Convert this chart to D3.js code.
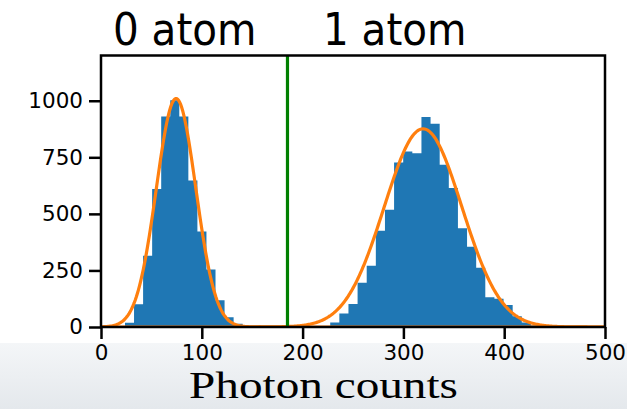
<!DOCTYPE html>
<html lang="en">
<head>
<meta charset="utf-8">
<script src="https://d3js.org/d3.v7.min.js"></script>
<style>
  body { margin: 0; background: #fff; }
  svg { display: block; }
</style>
</head>
<body>
<script>
// histogram of the "0 atom" shots
var zeroStart = 23.8, zeroWidth = 8.98;
var zeroCounts = [19, 101, 315, 610, 930, 1002, 930, 648, 422, 254, 118, 43, 14];

// histogram of the "1 atom" shots
var oneStart = 227.4, oneWidth = 9.05;
var oneCounts = [20, 60, 102, 196, 271, 425, 518, 727, 776, 768, 928, 898, 717, 614,
                 437, 355, 262, 132, 125, 97, 48, 20, 7];

// gaussian fits: [amplitude, centre, sigma]
var fitZero = [1010, 74.5, 19.6];
var fitOne = [876, 319.5, 38.5];

var threshold = 185;
var xTicks = [0, 100, 200, 300, 400, 500];
var yTicks = [0, 250, 500, 750, 1000];
var labels = ["0 atom", "1 atom"];

var w = 627, h = 409;
var svg = d3.select("body").append("svg").attr("width", w).attr("height", h);

// slide background at the bottom
var grad = svg.append("defs").append("linearGradient")
  .attr("id", "bg").attr("x1", 0).attr("y1", 0).attr("x2", 0).attr("y2", 1);
grad.append("stop").attr("offset", "0%").attr("stop-color", "#f4f6f8");
grad.append("stop").attr("offset", "100%").attr("stop-color", "#e4e8ec");
svg.append("rect").attr("x", 0).attr("y", 343).attr("width", w).attr("height", h - 343)
  .attr("fill", "url(#bg)");

var x = d3.scaleLinear().domain([0, 500]).range([101, 605]);
var y = d3.scaleLinear().domain([0, 1200]).range([327, 55.5]);

svg.append("clipPath").attr("id", "clip").append("rect")
  .attr("x", 101).attr("y", 55.5).attr("width", 504).attr("height", 271.5);
var plot = svg.append("g").attr("clip-path", "url(#clip)");

// each histogram as one stepped outline, so no seams between bars
function steps(start, width, counts) {
  var pts = [[start, 0]];
  counts.forEach(function(c, i) {
    pts.push([start + i * width, c]);
    pts.push([start + (i + 1) * width, c]);
  });
  pts.push([start + counts.length * width, 0]);
  return pts;
}
var line = d3.line().x(function(d) { return x(d[0]); }).y(function(d) { return y(d[1]); });

[steps(zeroStart, zeroWidth, zeroCounts), steps(oneStart, oneWidth, oneCounts)].forEach(function(pts) {
  plot.append("path").attr("d", line(pts) + "Z").attr("fill", "#1f77b4");
});

// fitted curves
var xs = d3.range(0, 500.5, 1);
[fitZero, fitOne].forEach(function(p) {
  var pts = xs.map(function(v) {
    return [v, p[0] * Math.exp(-0.5 * Math.pow((v - p[1]) / p[2], 2))];
  });
  plot.append("path").datum(pts).attr("d", line)
    .attr("fill", "none").attr("stroke", "#ff7f0e").attr("stroke-width", 3.2);
});

// threshold
svg.append("line")
  .attr("x1", x(threshold)).attr("x2", x(threshold))
  .attr("y1", y(1200)).attr("y2", y(0))
  .attr("stroke", "#008000").attr("stroke-width", 3.2);

// frame
svg.append("rect").attr("x", 101).attr("y", 55.5).attr("width", 504).attr("height", 271.5)
  .attr("fill", "none").attr("stroke", "#000").attr("stroke-width", 2.5);

var xAxis = svg.append("g").attr("transform", "translate(0,327)")
  .call(d3.axisBottom(x).tickValues(xTicks).tickSize(12).tickPadding(6).tickFormat(d3.format("d")));
var yAxis = svg.append("g").attr("transform", "translate(101,0)")
  .call(d3.axisLeft(y).tickValues(yTicks).tickSize(12).tickPadding(6).tickFormat(d3.format("d")));
[xAxis, yAxis].forEach(function(a) {
  a.select(".domain").remove();
  a.selectAll(".tick line").attr("stroke", "#000").attr("stroke-width", 2.5);
  a.selectAll(".tick text").attr("fill", "#000")
    .style("font-family", "'DejaVu Sans', sans-serif").style("font-size", "21.5px");
});

// annotations
svg.selectAll("text.lab").data(labels).enter().append("text")
  .attr("class", "lab")
  .attr("x", function(d, i) { return i == 0 ? 113 : 323; })
  .attr("y", 45)
  .style("font-family", "'DejaVu Sans Condensed', 'DejaVu Sans', sans-serif")
  .style("font-size", "45px")
  .attr("fill", "#000")
  .text(function(d) { return d; });

svg.append("text")
  .attr("x", 189).attr("y", 398)
  .attr("textLength", 269).attr("lengthAdjust", "spacingAndGlyphs")
  .style("font-family", "'Liberation Serif', serif")
  .style("font-size", "37px")
  .attr("fill", "#000")
  .text("Photon counts");
</script>
</body>
</html>
